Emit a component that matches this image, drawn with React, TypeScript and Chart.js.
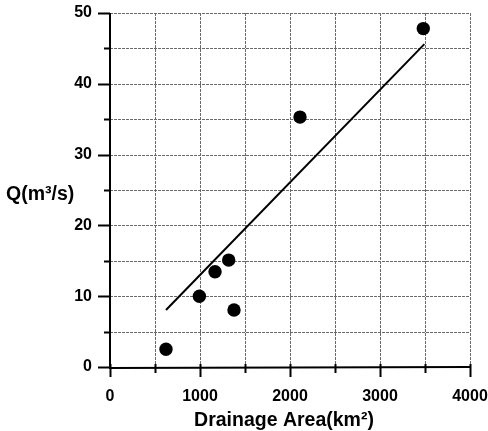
import React, { useEffect, useRef } from "react";
import { Chart, registerables } from "chart.js";

Chart.register(...registerables);

const areaKm2 = [622, 993, 1167, 1319, 1378, 2111, 3481];
const dischargeQ = [2.5, 10.0, 13.45, 15.1, 8.05, 35.3, 47.8];
const fitX = [622, 3493];
const fitY = [8.05, 45.6];
const xGridValues = [0, 500, 1000, 1500, 2000, 2500, 3000, 3500, 4000];
const yGridValues = [0, 5, 10, 15, 20, 25, 30, 35, 40, 45, 50];
const xLabelValues = [0, 1000, 2000, 3000, 4000];
const yLabelValues = [0, 10, 20, 30, 40, 50];
const xTitle = "Drainage Area(km²)";
const yTitle = "Q(m³/s)";

const FONT = '"Liberation Sans", Arial, sans-serif';

const framePlugin = {
  id: "frame",
  beforeDatasetsDraw(chart: any) {
    const { ctx, chartArea, scales } = chart;
    const xs = scales.x;
    const ys = scales.y;
    ctx.save();
    ctx.strokeStyle = "#6a6a6a";
    ctx.lineWidth = 1;
    ctx.setLineDash([3, 1]);
    xGridValues.forEach((v) => {
      const px = Math.round(xs.getPixelForValue(v)) + 0.5;
      ctx.beginPath();
      ctx.moveTo(px, chartArea.top);
      ctx.lineTo(px, chartArea.bottom);
      ctx.stroke();
    });
    yGridValues.forEach((v) => {
      const py = Math.round(ys.getPixelForValue(v)) + 0.5;
      ctx.beginPath();
      ctx.moveTo(chartArea.left, py);
      ctx.lineTo(chartArea.right, py);
      ctx.stroke();
    });
    ctx.setLineDash([]);
    ctx.strokeStyle = "#000";
    ctx.lineWidth = 2;
    ctx.beginPath();
    ctx.moveTo(chartArea.left, chartArea.top);
    ctx.lineTo(chartArea.left, chartArea.bottom + 1);
    ctx.lineTo(chartArea.right + 1, chartArea.bottom);
    ctx.stroke();
    xGridValues.forEach((v) => {
      const px = Math.round(xs.getPixelForValue(v)) + 0.5;
      const len = xLabelValues.includes(v) ? 10 : 6;
      ctx.beginPath();
      ctx.moveTo(px, chartArea.bottom - 3);
      ctx.lineTo(px, chartArea.bottom + len);
      ctx.stroke();
    });
    yGridValues.forEach((v) => {
      const py = Math.round(ys.getPixelForValue(v)) + 0.5;
      const len = yLabelValues.includes(v) ? 12 : 6;
      ctx.beginPath();
      ctx.moveTo(chartArea.left - len, py);
      ctx.lineTo(chartArea.left, py);
      ctx.stroke();
    });
    ctx.restore();
  },
  afterDraw(chart: any) {
    const { ctx } = chart;
    ctx.save();
    ctx.fillStyle = "#000";
    ctx.font = `bold 19.5px ${FONT}`;
    ctx.textBaseline = "middle";
    ctx.textAlign = "center";
    ctx.fillText(xTitle, 284, 421);
    ctx.textAlign = "left";
    ctx.fillText(yTitle, 6, 195);
    ctx.restore();
  },
};

export default function App() {
  const ref = useRef<HTMLCanvasElement | null>(null);
  useEffect(() => {
    if (!ref.current) return;
    const chart = new Chart(ref.current, {
      type: "scatter",
      data: {
        datasets: [
          {
            type: "scatter",
            data: areaKm2.map((x, i) => ({ x, y: dischargeQ[i] })),
            backgroundColor: "#000",
            borderColor: "#000",
            borderWidth: 0,
            pointRadius: 6.7,
          },
          {
            type: "line",
            data: fitX.map((x, i) => ({ x, y: fitY[i] })),
            borderColor: "#000",
            borderWidth: 2,
            pointRadius: 0,
            fill: false,
          } as any,
        ],
      },
      options: {
        responsive: false,
        animation: false,
        layout: { padding: { left: 0, right: 18, top: 13, bottom: 0 } },
        plugins: { legend: { display: false }, tooltip: { enabled: false } },
        scales: {
          x: {
            type: "linear",
            min: 0,
            max: 4000,
            afterFit: (s: any) => {
              s.height = 64;
              s.paddingLeft = 0;
              s.paddingRight = 0;
              s.paddingTop = 0;
              s.paddingBottom = 0;
            },
            afterBuildTicks: (s: any) => {
              s.ticks = xLabelValues.map((v) => ({ value: v }));
            },
            grid: { display: false, drawTicks: false },
            border: { display: false },
            ticks: {
              padding: 20,
              color: "#000",
              font: { family: FONT, size: 16, weight: "bold" },
              maxRotation: 0,
              callback: (v: any) => String(v),
            },
          },
          y: {
            type: "linear",
            min: 0,
            max: 50,
            afterFit: (s: any) => {
              s.width = 110;
              s.paddingLeft = 0;
              s.paddingRight = 0;
              s.paddingTop = 0;
              s.paddingBottom = 0;
            },
            afterBuildTicks: (s: any) => {
              s.ticks = yLabelValues.map((v) => ({ value: v }));
            },
            grid: { display: false, drawTicks: false },
            border: { display: false },
            ticks: {
              padding: 18,
              color: "#000",
              font: { family: FONT, size: 16, weight: "bold" },
              callback: (v: any) => String(v),
            },
          },
        },
      },
      plugins: [framePlugin],
    });
    return () => chart.destroy();
  }, []);
  return (
    <div style={{ position: "absolute", left: 0, top: 0, width: 488, height: 431, background: "#fff" }}>
      <canvas ref={ref} width={488} height={431} style={{ display: "block" }} />
    </div>
  );
}
